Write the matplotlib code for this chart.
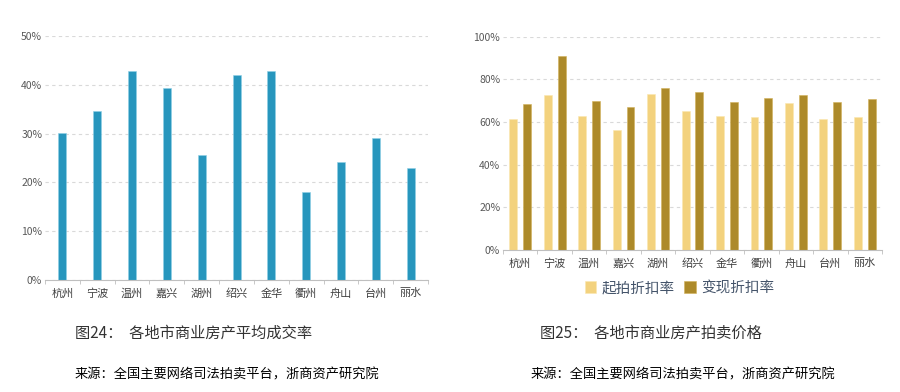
import numpy as np
import matplotlib
matplotlib.use('Agg')
import matplotlib.pyplot as plt

plt.rcParams['font.family'] = ['Noto Sans CJK SC', 'DejaVu Sans']
plt.rcParams['axes.unicode_minus'] = False

# 数据
cities = ['杭州', '宁波', '温州', '嘉兴', '湖州', '绍兴', '金华', '衢州', '舟山', '台州', '丽水']
deal_rate = [30.1, 34.7, 42.9, 39.3, 25.6, 42.1, 42.9, 18.1, 24.1, 29.2, 23.0]
start_discount = [61.4, 72.5, 62.7, 56.4, 73.3, 65.2, 62.7, 62.2, 68.8, 61.4, 62.2]
real_discount = [68.3, 91.1, 69.7, 67.2, 75.8, 73.9, 69.4, 71.3, 72.5, 69.4, 70.6]

tick_color = '#595959'
grid_color = '#d9d9d9'


def style_axes(ax, ymax, step):
    ax.set_ylim(0, ymax)
    ax.set_yticks(np.arange(0, ymax + 1, step))
    ax.set_yticklabels([f'{v}%' for v in range(0, ymax + 1, step)], fontsize=7.5, color=tick_color)
    ax.set_xlim(-0.5, len(cities) - 0.5)
    ax.set_xticks(range(len(cities)))
    ax.set_xticklabels(cities, fontsize=8, color='#404040')
    ax.tick_params(axis='y', length=0, pad=2)
    ax.tick_params(axis='x', length=0, pad=6)
    # 分类边界的小刻度
    ax.set_xticks(np.arange(-0.5, len(cities), 1), minor=True)
    ax.tick_params(axis='x', which='minor', length=3, color='#bfbfbf')
    ax.yaxis.grid(True, linestyle=(0, (3, 3)), color=grid_color, linewidth=0.8)
    ax.set_axisbelow(True)
    for s in ['top', 'right', 'left']:
        ax.spines[s].set_visible(False)
    ax.spines['bottom'].set_color('#bfbfbf')


fig = plt.figure(figsize=(9, 3.92), dpi=100)

# 图24 平均成交率
ax1 = fig.add_axes([0.05, 0.2857, 0.4256, 0.6224])
x = np.arange(len(cities))
ax1.bar(x, deal_rate, width=0.23, color='#2796bd', edgecolor='#8fd0e6', linewidth=0.4)
style_axes(ax1, 50, 10)

# 图25 拍卖价格
ax2 = fig.add_axes([0.5589, 0.3622, 0.4211, 0.5441])
ax2.bar(x - 0.2, start_discount, width=0.23, color='#f3d27e', edgecolor='#fbe7b0', linewidth=0.4, label='起拍折扣率')
ax2.bar(x + 0.2, real_discount, width=0.23, color='#ad8a2a', edgecolor='#d2b25a', linewidth=0.4, label='变现折扣率')
style_axes(ax2, 100, 20)

leg = fig.legend(loc='center', bbox_to_anchor=(0.755, 0.265), ncol=2, frameon=False,
                 fontsize=10.5, handlelength=0.8, handleheight=0.8, handletextpad=0.4,
                 columnspacing=0.6)
for t in leg.get_texts():
    t.set_color('#44546a')

# 标题与来源
fig.text(0.083, 0.15, '图24：  各地市商业房产平均成交率', fontsize=11, color='#333333', va='center')
fig.text(0.6, 0.15, '图25：  各地市商业房产拍卖价格', fontsize=11, color='#333333', va='center')
fig.text(0.083, 0.043, '来源：全国主要网络司法拍卖平台，浙商资产研究院', fontsize=9.5, color='#000000', va='center')
fig.text(0.589, 0.043, '来源：全国主要网络司法拍卖平台，浙商资产研究院', fontsize=9.5, color='#000000', va='center')

fig.savefig('out.png', dpi=100, facecolor='white')
